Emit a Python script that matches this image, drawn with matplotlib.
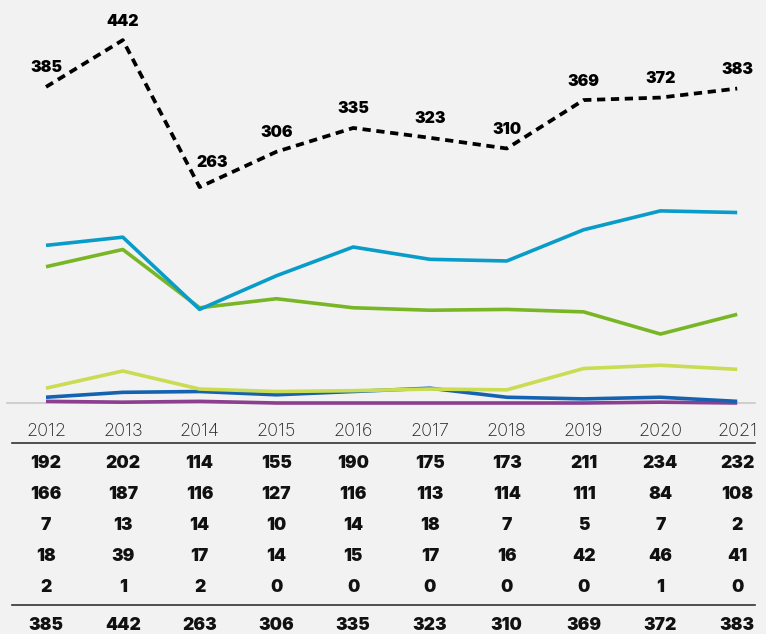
import matplotlib.pyplot as plt

years = [2012, 2013, 2014, 2015, 2016, 2017, 2018, 2019, 2020, 2021]
series_a = [192, 202, 114, 155, 190, 175, 173, 211, 234, 232]
series_b = [166, 187, 116, 127, 116, 113, 114, 111, 84, 108]
series_c = [7, 13, 14, 10, 14, 18, 7, 5, 7, 2]
series_d = [18, 39, 17, 14, 15, 17, 16, 42, 46, 41]
series_e = [2, 1, 2, 0, 0, 0, 0, 0, 1, 0]
totals = [385, 442, 263, 306, 335, 323, 310, 369, 372, 383]

rows = [series_a, series_b, series_c, series_d, series_e]
colors = ["#0a9cc8", "#78b626", "#1563b0", "#c9dc52", "#8c3f90"]

bg = "#f2f2f2"
W, H = 766, 634
plt.rcParams['font.family'] = ['Inter', 'DejaVu Sans']

fig = plt.figure(figsize=(W / 100, H / 100), dpi=100, facecolor=bg)

# pixel layout: first year at x=46, step 76.8 px; value 0 at y=403, 0.821 px per unit
x0, dx = 46, 76.8
xlim = (-x0 / dx, (W - x0) / dx)
base_px = 403
scale = 0.821

ax = fig.add_axes([0, 1 - base_px / H, 1, base_px / H])
ax.set_facecolor(bg)
ax.set_xlim(*xlim)
ax.set_ylim(0, base_px / scale)
ax.axis("off")

idx = list(range(len(years)))
ax.plot([(7 - x0) / dx, (755 - x0) / dx], [0, 0], color="#c8c8c8", lw=1.2, clip_on=False, zorder=1)

draw_order = [4, 2, 3, 1, 0]
for k in draw_order:
    ax.plot(idx, rows[k], color=colors[k], lw=2.6, solid_capstyle="butt", clip_on=False, zorder=2)

ax.plot(idx, totals, color="black", lw=2.7, linestyle=(0, (2.2, 1.5)), clip_on=False, zorder=3)

for i, v in enumerate(totals):
    off = (13, 25) if i == 2 else (0, 19)
    ax.annotate(str(v), (i, v), xytext=off, textcoords="offset pixels",
                ha="center", va="center", fontsize=11.5, fontweight="black")

# table below
tab = fig.add_axes([0, 0, 1, 1 - base_px / H])
tab.set_facecolor(bg)
tab.set_xlim(*xlim)
tab.set_ylim(H, base_px)
tab.axis("off")

for i, yr in enumerate(years):
    tab.text(i, 432, str(yr), ha="center", va="center", fontsize=13, fontweight="light", color="#222222")

tab.plot([(12 - x0) / dx, (755 - x0) / dx], [443, 443], color="#333333", lw=1.2)
row_y = [464, 495, 526, 557, 588]
for r, yy in zip(rows, row_y):
    for i, v in enumerate(r):
        tab.text(i, yy, str(v), ha="center", va="center", fontsize=12.5, fontweight="black", color="#111111")
tab.plot([(12 - x0) / dx, (755 - x0) / dx], [605, 605], color="#333333", lw=1.2)
for i, v in enumerate(totals):
    tab.text(i, 626, str(v), ha="center", va="center", fontsize=12.5, fontweight="black", color="#111111")

fig.savefig("out.png", dpi=100, facecolor=bg)
